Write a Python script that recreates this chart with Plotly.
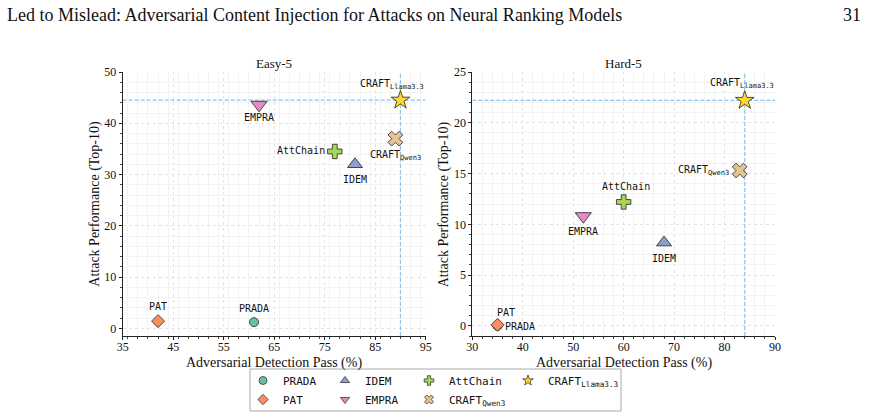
import plotly.graph_objects as go

methods = ["PRADA", "PAT", "IDEM", "EMPRA", "AttChain", "CRAFT<sub>Qwen3</sub>", "CRAFT<sub>Llama3.3</sub>"]
colors = ["#66c2a5", "#fc8d62", "#8da0cb", "#e78ac3", "#a6d854", "#e5c494", "#ffd92f"]
symbols = ["circle", "diamond", "triangle-up", "triangle-down", "cross", "x", "star"]
sizes = [9, 10, 13, 14, 12, 13, 14]

easy_x = [61, 42, 81, 62, 77, 89, 90]
easy_y = [1.2, 1.4, 32, 43.6, 34.5, 37, 44.5]
hard_x = [35, 35, 68, 52, 60, 83, 84]
hard_y = [0.0, 0.1, 8.2, 10.8, 12.2, 15.3, 22.2]

easy_xrange = [35, 95]
easy_yrange = [-1.5, 50]
hard_xrange = [30, 90]
hard_yrange = [-1, 25]

x_title = "Adversarial Detection Pass (%)"
y_title = "Attack Performance (Top-10)"
panel_titles = ["Easy-5", "Hard-5"]

# label placement: (xanchor, yanchor, xshift, yshift)
easy_lab = [("center", "bottom", 0, 6), ("center", "bottom", 0, 7), ("center", "top", 0, -8),
            ("center", "top", 0, -5), ("right", "middle", -8, 1), ("center", "top", 0, -8),
            ("center", "bottom", -8, 7)]
hard_lab = [("left", "middle", 5, -1), ("center", "bottom", 8, 5), ("center", "top", 0, -8),
            ("center", "top", 0, -8), ("center", "bottom", 2, 8), ("right", "middle", -9, 0),
            ("center", "bottom", -3, 8)]

W, H = 869, 419
fig = go.Figure()

for i, m in enumerate(methods):
    for (xs, ys, xa, ya) in [(easy_x, easy_y, "x", "y"), (hard_x, hard_y, "x2", "y2")]:
        fig.add_trace(go.Scatter(
            x=[xs[i]], y=[ys[i]], mode="markers", xaxis=xa, yaxis=ya, showlegend=False,
            marker=dict(symbol=symbols[i], size=sizes[i], color=colors[i],
                        line=dict(color="#222", width=0.8)),
            name=m))

# legend-only traces (column-wise groups)
leg_groups = ["legend", "legend", "legend2", "legend2", "legend3", "legend3", "legend4"]
for i, m in enumerate(methods):
    fig.add_trace(go.Scatter(
        x=[None], y=[None], mode="markers", name=m, legend=leg_groups[i],
        marker=dict(symbol=symbols[i], size=8, color=colors[i], line=dict(color="#222", width=0.7))))

ann = []
lab_font = dict(family="DejaVu Sans Mono", size=10, color="#111")
for xs, ys, labs, xr, yr in [(easy_x, easy_y, easy_lab, "x", "y"), (hard_x, hard_y, hard_lab, "x2", "y2")]:
    for i, m in enumerate(methods):
        xa_, ya_, xs_, ys_ = labs[i]
        ann.append(dict(x=xs[i], y=ys[i], xref=xr, yref=yr, text=m, showarrow=False,
                        xanchor=xa_, yanchor=ya_, xshift=xs_, yshift=ys_, font=lab_font))

serif = "Liberation Serif"
title_font = dict(family=serif, size=14, color="#111")
ann.append(dict(x=5 / W, y=1 - 15 / H, xref="paper", yref="paper", xanchor="left", yanchor="middle",
                text="Led to Mislead: Adversarial Content Injection for Attacks on Neural Ranking Models",
                showarrow=False, font=dict(family=serif, size=18, color="#111")))
ann.append(dict(x=863 / W, y=1 - 15 / H, xref="paper", yref="paper", xanchor="right", yanchor="middle",
                text="31", showarrow=False, font=dict(family=serif, size=18, color="#111")))

x_doms = [[122.7 / W, 425.7 / W], [472.3 / W, 775 / W]]
for k in range(2):
    cx = (x_doms[k][0] + x_doms[k][1]) / 2
    ann.append(dict(x=cx, y=1 - 63 / H, xref="paper", yref="paper", xanchor="center", yanchor="middle",
                    text=panel_titles[k], showarrow=False, font=dict(family=serif, size=13, color="#111")))
    ann.append(dict(x=cx, y=1 - 363 / H, xref="paper", yref="paper", xanchor="center", yanchor="middle",
                    text=x_title, showarrow=False, font=title_font))
    ann.append(dict(x=x_doms[k][0] - 28 / W, y=1 - 204 / H, xref="paper", yref="paper", xanchor="center",
                    yanchor="middle", text=y_title, textangle=-90, showarrow=False, font=title_font))

shapes = []
best = 6
dash_col = "#8cc4ec"
for xs, ys, xr, yr, xrg, yrg in [(easy_x, easy_y, "x", "y", easy_xrange, easy_yrange),
                                 (hard_x, hard_y, "x2", "y2", hard_xrange, hard_yrange)]:
    shapes.append(dict(type="line", xref=xr, yref=yr, x0=xs[best], x1=xs[best], y0=yrg[0], y1=yrg[1],
                       line=dict(color=dash_col, width=1.2, dash="4px,2px"), layer="between"))
    shapes.append(dict(type="line", xref=xr, yref=yr, x0=xrg[0], x1=xrg[1], y0=ys[best], y1=ys[best],
                       line=dict(color=dash_col, width=1.2, dash="4px,2px"), layer="between"))

# legend frame
shapes.append(dict(type="rect", xref="paper", yref="paper", x0=250 / W, x1=621 / W,
                   y0=1 - 411 / H, y1=1 - 369 / H, line=dict(color="#aaa", width=1)))


def axis_common(dtick, tick0, mdtick, standoff=0):
    return dict(showline=True, linecolor="#222", linewidth=1, ticks="outside", ticklen=3,
                tickcolor="#222", dtick=dtick, tick0=tick0, showgrid=True, gridcolor="#e3e3e3",
                griddash="dot", gridwidth=1, zeroline=False, mirror=False,
                ticklabelstandoff=standoff,
                tickfont=dict(family=serif, size=12, color="#111"),
                minor=dict(dtick=mdtick, ticks="outside", ticklen=2, tickcolor="#444",
                           showgrid=True, gridcolor="#f3f3f3", griddash="solid"))


ydom = [1 - 336 / H, 1 - 72 / H]

leg_common = dict(orientation="v", yanchor="top", xanchor="left", bgcolor="rgba(0,0,0,0)",
                  font=dict(family="DejaVu Sans Mono", size=11, color="#111"),
                  tracegroupgap=0, itemsizing="trace")
ly = 1 - 366 / H

fig.update_layout(
    width=W, height=H, margin=dict(l=0, r=0, t=0, b=0, autoexpand=False),
    paper_bgcolor="white", plot_bgcolor="white",
    xaxis=dict(domain=x_doms[0], range=easy_xrange, anchor="y", **axis_common(10, 35, 2, -3)),
    yaxis=dict(domain=ydom, range=easy_yrange, anchor="x", **axis_common(10, 0, 2)),
    xaxis2=dict(domain=x_doms[1], range=hard_xrange, anchor="y2", **axis_common(10, 30, 2, -3)),
    yaxis2=dict(domain=ydom, range=hard_yrange, anchor="x2", **axis_common(5, 0, 1)),
    legend=dict(x=243 / W, y=ly, **leg_common),
    legend2=dict(x=325 / W, y=ly, **leg_common),
    legend3=dict(x=409 / W, y=ly, **leg_common),
    legend4=dict(x=508 / W, y=ly, **leg_common),
    annotations=ann, shapes=shapes,
)

fig.write_html("out.html")
